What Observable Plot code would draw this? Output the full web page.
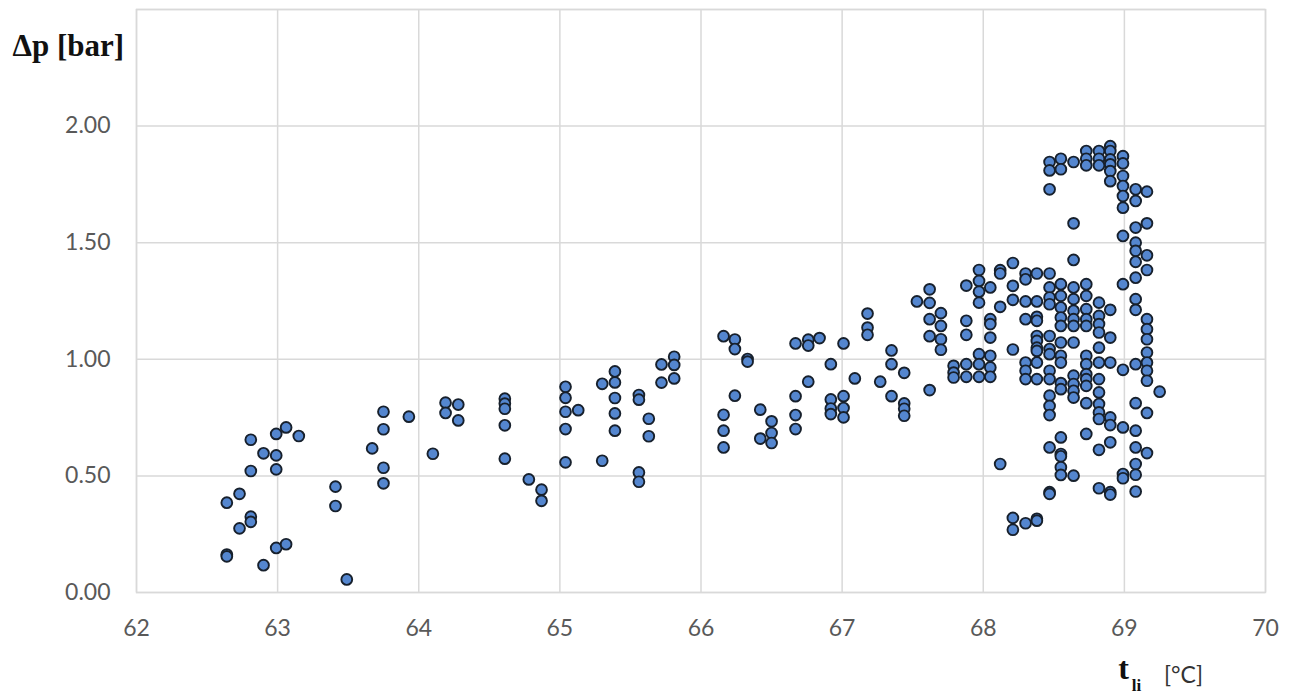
<!DOCTYPE html>
<html>
<head>
<meta charset="utf-8">
<script src="https://cdn.jsdelivr.net/npm/d3@7"></script>
<script src="https://cdn.jsdelivr.net/npm/@observablehq/plot@0.6"></script>
<style>
  html, body { margin: 0; padding: 0; background: #fff; }
</style>
</head>
<body>
<div id="chart"></div>
<script>
// Inlet temperature t_li [°C] (one entry per column of points)
const tliColumns = [
  62.64, 62.73, 62.81, 62.90, 62.99, 63.06, 63.15, 63.41, 63.49, 63.67,
  63.75, 63.93, 64.10, 64.19, 64.28, 64.61, 64.78, 64.87, 65.04, 65.13,
  65.30, 65.39, 65.56, 65.63, 65.72, 65.81, 66.16, 66.24, 66.33, 66.42,
  66.50, 66.67, 66.76, 66.84, 66.92, 67.01, 67.09, 67.18, 67.27, 67.35,
  67.44, 67.53, 67.62, 67.70, 67.79, 67.88, 67.97, 68.05, 68.12, 68.21,
  68.30, 68.38, 68.47, 68.55, 68.64, 68.73, 68.82, 68.90, 68.99, 69.08,
  69.16, 69.25
];

// Pressure drop Δp [bar] measured at each temperature column
const dpColumns = [
  [0.385, 0.163, 0.155],
  [0.423, 0.275],
  [0.655, 0.521, 0.325, 0.303],
  [0.597, 0.117],
  [0.68, 0.588, 0.528, 0.191],
  [0.708, 0.207],
  [0.671],
  [0.454, 0.371],
  [0.056],
  [0.618],
  [0.775, 0.70, 0.535, 0.468],
  [0.754],
  [0.595],
  [0.814, 0.77],
  [0.806, 0.738],
  [0.831, 0.81, 0.788, 0.717, 0.574],
  [0.485],
  [0.441, 0.393],
  [0.882, 0.835, 0.775, 0.701, 0.558],
  [0.782],
  [0.895, 0.565],
  [0.948, 0.901, 0.834, 0.768, 0.694],
  [0.847, 0.827, 0.515, 0.475],
  [0.745, 0.67],
  [0.978, 0.90],
  [1.011, 0.976, 0.918],
  [1.099, 0.762, 0.694, 0.622],
  [1.085, 1.044, 0.844],
  [1.001, 0.99],
  [0.784, 0.66],
  [0.734, 0.684, 0.641],
  [1.068, 0.842, 0.761, 0.701],
  [1.084, 1.059, 0.904],
  [1.091],
  [0.979, 0.828, 0.789, 0.765],
  [1.068, 0.842, 0.791, 0.751],
  [0.918],
  [1.196, 1.136, 1.105],
  [0.904],
  [1.038, 0.979, 0.842],
  [0.942, 0.811, 0.788, 0.758],
  [1.248],
  [1.30, 1.242, 1.172, 1.099, 0.868],
  [1.198, 1.143, 1.086, 1.041],
  [0.972, 0.943, 0.922],
  [1.316, 1.165, 1.105, 0.979, 0.925],
  [1.383, 1.336, 1.29, 1.243, 1.022, 0.979, 0.925],
  [1.308, 1.172, 1.151, 1.093, 1.015, 0.965, 0.925],
  [1.382, 1.368, 1.225, 0.551],
  [1.413, 1.315, 1.255, 1.042, 0.32, 0.269],
  [1.368, 1.343, 1.248, 1.172, 0.986, 0.951, 0.915, 0.297],
  [1.368, 1.248, 1.182, 1.165, 1.10, 1.079, 1.05, 1.036, 0.986, 0.915, 0.316, 0.308],
  [1.846, 1.81, 1.729, 1.368, 1.308, 1.265, 1.236, 1.10, 1.044, 1.022, 0.951, 0.915, 0.844, 0.80, 0.761, 0.622, 0.43, 0.423],
  [1.86, 1.815, 1.322, 1.272, 1.222, 1.179, 1.143, 1.072, 1.015, 0.986, 0.898, 0.872, 0.665, 0.594, 0.584, 0.537, 0.504],
  [1.846, 1.583, 1.426, 1.308, 1.258, 1.208, 1.172, 1.143, 1.072, 0.93, 0.894, 0.865, 0.836, 0.501],
  [1.893, 1.86, 1.832, 1.322, 1.272, 1.215, 1.172, 1.143, 1.015, 0.979, 0.936, 0.915, 0.886, 0.812, 0.68],
  [1.893, 1.86, 1.832, 1.243, 1.186, 1.151, 1.115, 1.05, 0.986, 0.915, 0.858, 0.808, 0.772, 0.744, 0.612, 0.447],
  [1.914, 1.893, 1.857, 1.836, 1.807, 1.764, 1.212, 1.093, 0.986, 0.751, 0.718, 0.644, 0.43, 0.42],
  [1.871, 1.84, 1.786, 1.743, 1.70, 1.65, 1.529, 1.322, 0.955, 0.708, 0.508, 0.49],
  [1.729, 1.679, 1.565, 1.50, 1.465, 1.418, 1.35, 1.258, 1.212, 0.979, 0.812, 0.694, 0.622, 0.551, 0.505, 0.433],
  [1.719, 1.583, 1.446, 1.383, 1.172, 1.129, 1.086, 1.029, 0.986, 0.951, 0.908, 0.77, 0.598],
  [0.861]
];

const xTicks = [62, 63, 64, 65, 66, 67, 68, 69, 70];
const yTicks = [0, 0.5, 1.0, 1.5, 2.0];
const yGrid = [0, 0.5, 1.0, 1.5, 2.0, 2.5];

const yLabel = "Δp [bar]";
const xLabelMain = "t";
const xLabelSub = "li";
const xLabelUnit = "[°C]";

// Build the point table from the arrays
const points = tliColumns.flatMap((t, i) => dpColumns[i].map(v => ({tli: t, dp: v})));

const serif = "'Liberation Serif', 'Times New Roman', serif";

const chart = Plot.plot({
  width: 1289,
  height: 697,
  marginTop: 9,
  marginRight: 24,
  marginBottom: 105,
  marginLeft: 136,
  style: {fontFamily: "Lato, sans-serif", fontSize: "23px", color: "#595959", background: "#fff"},
  x: {domain: [62, 70]},
  y: {domain: [0, 2.5]},
  marks: [
    Plot.gridX(xTicks, {stroke: "#d9d9d9", strokeOpacity: 1, strokeWidth: 1.5}),
    Plot.gridY(yGrid, {stroke: "#d9d9d9", strokeOpacity: 1, strokeWidth: 1.5}),
    Plot.frame({stroke: "#d9d9d9", strokeWidth: 1.5}),
    Plot.axisX(xTicks, {tickSize: 0, tickPadding: 27, tickFormat: d3.format("d"), label: null, fill: "#595959"}),
    Plot.axisY(yTicks, {tickSize: 0, tickPadding: 26, tickFormat: d3.format(".2f"), label: null, fill: "#595959"}),
    Plot.dot(points, {x: "tli", y: "dp", r: 5.4, fill: "#5486cf", stroke: "#17202c", strokeWidth: 1.9}),
    Plot.text([yLabel], {frameAnchor: "top-left", dx: -124, dy: 24, textAnchor: "start",
      fontFamily: serif, fontWeight: "bold", fontSize: 31, fill: "#111"}),
    Plot.text([xLabelMain], {frameAnchor: "bottom-right", dx: -142, dy: 86, textAnchor: "middle",
      fontFamily: serif, fontWeight: "bold", fontSize: 32, fill: "#111"}),
    Plot.text([xLabelSub], {frameAnchor: "bottom-right", dx: -129, dy: 98, textAnchor: "middle",
      fontFamily: serif, fontWeight: "bold", fontSize: 17, fill: "#111"}),
    Plot.text([xLabelUnit], {frameAnchor: "bottom-right", dx: -82, dy: 90, textAnchor: "middle",
      fontFamily: "Lato, sans-serif", fontSize: 23, fill: "#333"})
  ]
});

document.getElementById("chart").appendChild(chart);
</script>
</body>
</html>
